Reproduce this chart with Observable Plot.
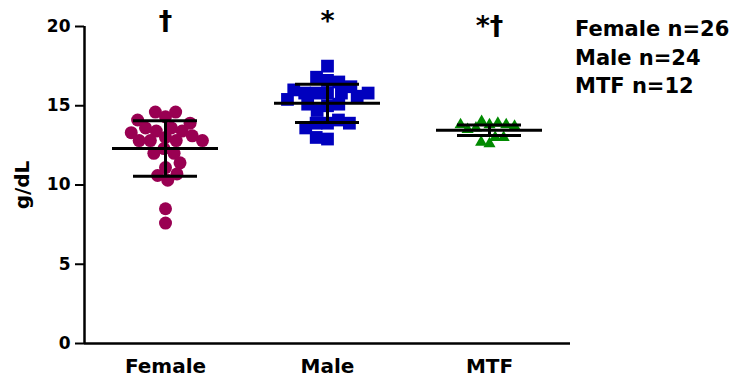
<!DOCTYPE html>
<html>
<head>
<meta charset="utf-8">
<script src="https://cdn.jsdelivr.net/npm/d3@7"></script>
<script src="https://cdn.jsdelivr.net/npm/@observablehq/plot@0.6"></script>
<style>
  body { margin: 0; background: #fff; }
  #chart { position: relative; width: 737px; height: 381px; font-family: "DejaVu Sans", sans-serif; font-weight: bold; color: #000; }
  #legend { position: absolute; left: 575px; top: 15px; font-size: 21px; line-height: 28.5px; white-space: nowrap; }
</style>
</head>
<body>
<div id="chart"><div id="legend"></div></div>
<script>
// Groups, sample sizes and significance marks
const groups = ["Female", "Male", "MTF"];
const counts = [26, 24, 12];
const sigLabels = ["†", "*", "*†"];

// Individual measurements (g/dL)
const female = [14.3, 14.6, 14.6, 13.0, 13.4, 13.6, 13.4, 13.6, 13.1, 12.8, 12.3, 12.8, 12.0,
                12.0, 12.8, 12.8, 11.1, 11.4, 10.6, 10.3, 10.7, 8.5, 7.6, 13.3, 13.9, 14.1];
const male = [17.5, 16.6, 16.8, 16.5, 15.8, 15.8, 15.8, 15.8, 15.0, 15.1, 14.7, 15.1,
              13.9, 14.1, 13.9, 13.9, 13.6, 12.9, 13.0, 16.2, 15.6, 16.0, 15.4, 15.8];
const mtf = [13.8, 14.0, 13.9, 12.6, 12.7, 13.0, 13.0, 13.6, 13.8, 13.5, 13.7, 13.8];

// Group mean and standard deviation
const means = [12.3, 15.15, 13.45];
const sds = [1.75, 1.2, 0.33];

// Axis ticks
const yTicks = [0, 5, 10, 15, 20];

const values = [female, male, mtf];
const rows = groups.map((g, i) => values[i].map(v => ({group: g, value: v})));
const stats = groups.map((g, i) => ({group: g, mean: means[i], sd: sds[i]}));
const sig = groups.map((g, i) => ({group: g, label: sigLabels[i]}));

const ink = "#000";
const bar = {fx: "group", stroke: ink, strokeWidth: 3};
const sigStyle = {fx: "group", text: "label", frameAnchor: "top", fontSize: 27, fontWeight: "bold", fill: ink};

const chart = Plot.plot({
  width: 737,
  height: 381,
  marginLeft: 83,
  marginRight: 167,
  marginTop: 26,
  marginBottom: 38,
  style: {fontFamily: "DejaVu Sans, sans-serif", fontWeight: "bold", color: ink, background: "#fff", overflow: "visible"},
  fx: {domain: groups, padding: 0, label: null, axis: null},
  x: {domain: [-1, 1], axis: null},
  y: {domain: [0, 20], axis: null},
  marks: [
    // y axis
    Plot.axisY({ticks: yTicks, tickSize: 9, tickPadding: 5, fontSize: 17, strokeWidth: 2, label: null}),
    Plot.ruleX([groups[0]], {fx: d => d, x: () => -1, strokeWidth: 2.5, stroke: ink}),
    Plot.text(["g/dL"], {fx: () => groups[0], frameAnchor: "left", textAnchor: "middle", dx: -62, rotate: -90, fontSize: 20, fontWeight: "bold", fill: ink}),
    // x axis
    Plot.ruleY([0], {strokeWidth: 2.5, stroke: ink}),
    Plot.axisFx({anchor: "bottom", tickSize: 0, tickPadding: 15, fontSize: 20, label: null}),
    // individual values, spread sideways to limit overlap
    Plot.dot(rows[0], Plot.dodgeX({anchor: "middle", padding: -1.8}, {fx: "group", y: "value", r: 6.5, symbol: "circle", fill: "#990052", stroke: "none"})),
    Plot.dot(rows[1], Plot.dodgeX({anchor: "middle", padding: -3}, {fx: "group", y: "value", r: 7.2, symbol: "square", fill: "#0000BE", stroke: "none"})),
    Plot.dot(rows[2], Plot.dodgeX({anchor: "middle", padding: -0.5}, {fx: "group", y: "value", r: 4.5, symbol: "triangle", fill: "#008A00", stroke: "none"})),
    // mean ± SD
    Plot.ruleY(stats, {...bar, y: "mean", insetLeft: 28, insetRight: 28}),
    Plot.ruleY(stats, {...bar, y: d => d.mean + d.sd, insetLeft: 49, insetRight: 49}),
    Plot.ruleY(stats, {...bar, y: d => d.mean - d.sd, insetLeft: 49, insetRight: 49}),
    Plot.ruleX(stats, {...bar, x: () => 0, y1: d => d.mean - d.sd, y2: d => d.mean + d.sd}),
    // significance marks
    Plot.text(sig.slice(0, 2), {...sigStyle, dy: -16}),
    Plot.text(sig.slice(2), {...sigStyle, dy: -11})
  ]
});

document.getElementById("chart").prepend(chart);
document.getElementById("legend").innerHTML =
  groups.map((g, i) => `${g} n=${counts[i]}`).join("<br>");
</script>
</body>
</html>
